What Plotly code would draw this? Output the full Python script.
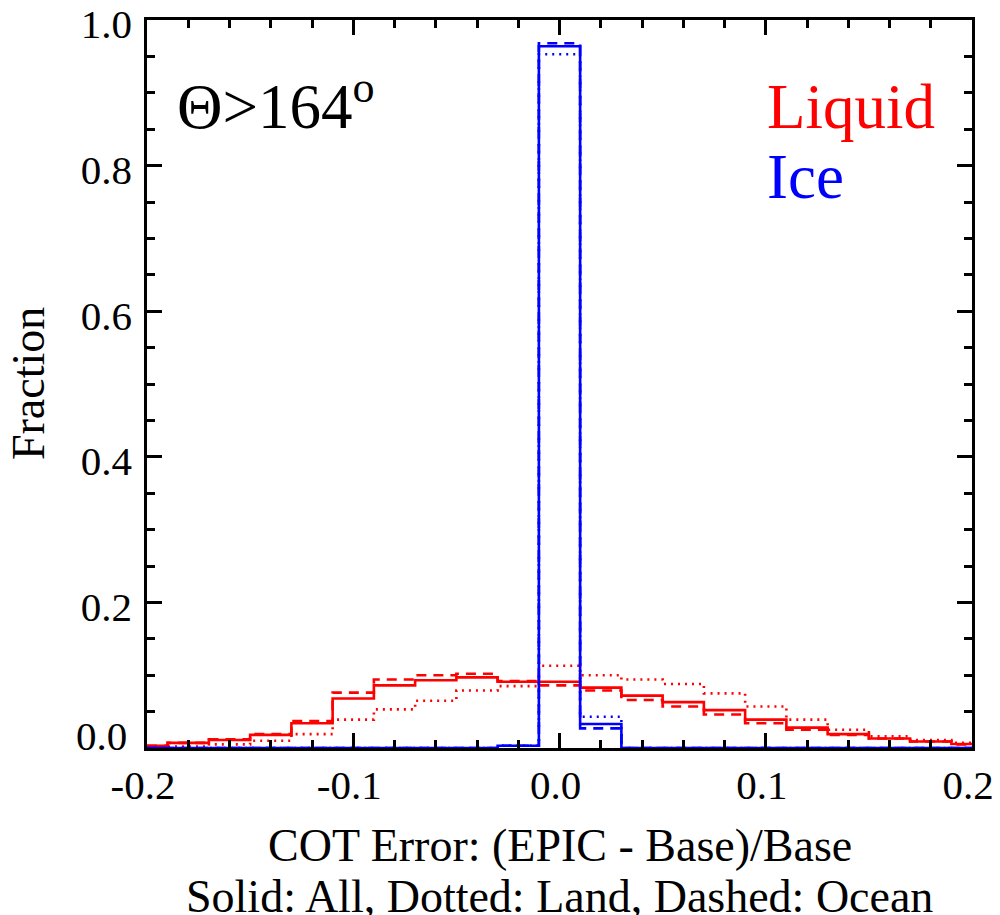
import plotly.graph_objects as go

# Bin centers (bin width 0.02)
bin_centers = [-0.20, -0.18, -0.16, -0.14, -0.12, -0.10, -0.08, -0.06, -0.04, -0.02,
               0.00, 0.02, 0.04, 0.06, 0.08, 0.10, 0.12, 0.14, 0.16, 0.18, 0.20]

liquid_all = [0.003, 0.007, 0.011, 0.018, 0.034, 0.068, 0.086, 0.093, 0.097, 0.091,
              0.091, 0.083, 0.072, 0.063, 0.052, 0.039, 0.028, 0.019, 0.013, 0.009, 0.0055]
liquid_land = [0.002, 0.002, 0.005, 0.010, 0.019, 0.039, 0.053, 0.065, 0.079, 0.085,
               0.113, 0.100, 0.094, 0.088, 0.075, 0.057, 0.039, 0.025, 0.016, 0.011, 0.007]
liquid_ocean = [0.003, 0.007, 0.012, 0.019, 0.037, 0.076, 0.094, 0.100, 0.102, 0.092,
                0.086, 0.079, 0.066, 0.057, 0.046, 0.034, 0.025, 0.018, 0.013, 0.009, 0.005]

ice_all = [0, 0, 0, 0, 0, 0, 0, 0, 0, 0.003,
           0.964, 0.033, 0, 0, 0, 0, 0, 0, 0, 0, 0]
ice_land = [0, 0, 0, 0, 0, 0, 0, 0, 0, 0.003,
            0.953, 0.043, 0, 0, 0, 0, 0, 0, 0, 0, 0]
ice_ocean = [0, 0, 0, 0, 0, 0, 0, 0, 0, 0.003,
             0.968, 0.027, 0, 0, 0, 0, 0, 0, 0, 0, 0]

y_tickvals = [0.2, 0.4, 0.6, 0.8, 1.0]
y_ticktext = ["0.2", "0.4", "0.6", "0.8", "1.0"]
x_tickvals = [-0.2, -0.1, 0.0, 0.1, 0.2]
x_ticktext = ["-0.2", "-0.1", "0.0", "0.1", "0.2"]

RED = "#ff0000"
BLUE = "#0000ff"
FONT = "Liberation Serif"
LW = 2.6
DOT = "2px,5px"
DASH = "10px,7px"
TICKFONT = 41

fig = go.Figure()
series = [
    (liquid_land, RED, DOT, "Liquid Land"),
    (liquid_ocean, RED, DASH, "Liquid Ocean"),
    (liquid_all, RED, "solid", "Liquid All"),
    (ice_land, BLUE, DOT, "Ice Land"),
    (ice_ocean, BLUE, DASH, "Ice Ocean"),
    (ice_all, BLUE, "solid", "Ice All"),
]
for vals, col, dash, name in series:
    fig.add_trace(go.Scatter(
        x=bin_centers, y=vals, mode="lines", name=name,
        line=dict(color=col, width=LW, dash=dash, shape="hvh"),
        showlegend=False,
    ))

axis_common = dict(
    showline=True, linecolor="black", linewidth=2.5, mirror="allticks",
    ticks="inside", ticklen=15, tickwidth=2.5, tickcolor="black",
    showgrid=False, zeroline=False, ticklabeloverflow="allow",
    tickfont=dict(family=FONT, size=TICKFONT, color="black"),
)

fig.update_xaxes(
    range=[-0.2, 0.2], tickvals=x_tickvals, ticktext=x_ticktext,
    minor=dict(dtick=0.02, ticks="inside", ticklen=8, tickwidth=2.5, tickcolor="black", showgrid=False),
    ticklabelstandoff=-1,
    ticklabelshift=-4,
    **axis_common,
)
fig.update_yaxes(
    range=[0, 1.0], tickvals=y_tickvals, ticktext=y_ticktext,
    minor=dict(dtick=0.05, tick0=0, ticks="inside", ticklen=8, tickwidth=2.5, tickcolor="black", showgrid=False),
    ticklabelstandoff=4,
    ticklabelshift=4,
    **axis_common,
)

annotations = [
    dict(text="0.0", xref="paper", yref="y", x=0, y=0.017, xanchor="right", yanchor="middle",
         xshift=-18, showarrow=False, font=dict(family=FONT, size=TICKFONT, color="black")),
    dict(text="Fraction", xref="paper", yref="paper", x=-0.1442, y=0.5, textangle=-90,
         xanchor="center", yanchor="middle", showarrow=False,
         font=dict(family=FONT, size=46, color="black")),
    dict(text="COT Error: (EPIC - Base)/Base", xref="paper", yref="paper", x=0.5, y=-0.1346,
         xanchor="center", yanchor="middle", showarrow=False,
         font=dict(family=FONT, size=46, color="black")),
    dict(text="Solid: All, Dotted: Land, Dashed: Ocean", xref="paper", yref="paper", x=0.5, y=-0.204,
         xanchor="center", yanchor="middle", showarrow=False,
         font=dict(family=FONT, size=46, color="black")),
    dict(text="Θ>164<sup>o</sup>", xref="paper", yref="paper", x=0.034, y=0.83,
         xanchor="left", yanchor="bottom", showarrow=False,
         font=dict(family=FONT, size=63, color="black")),
    dict(text="Liquid", xref="paper", yref="paper", x=0.749, y=0.83,
         xanchor="left", yanchor="bottom", showarrow=False,
         font=dict(family=FONT, size=63, color=RED)),
    dict(text="Ice", xref="paper", yref="paper", x=0.749, y=0.734,
         xanchor="left", yanchor="bottom", showarrow=False,
         font=dict(family=FONT, size=63, color=BLUE)),
]

fig.update_layout(
    width=1000, height=915,
    margin=dict(l=139, r=36, t=12, b=175, autoexpand=False),
    paper_bgcolor="white", plot_bgcolor="white",
    font=dict(family=FONT, color="black"),
    annotations=annotations,
)

fig.write_html("out.html")
